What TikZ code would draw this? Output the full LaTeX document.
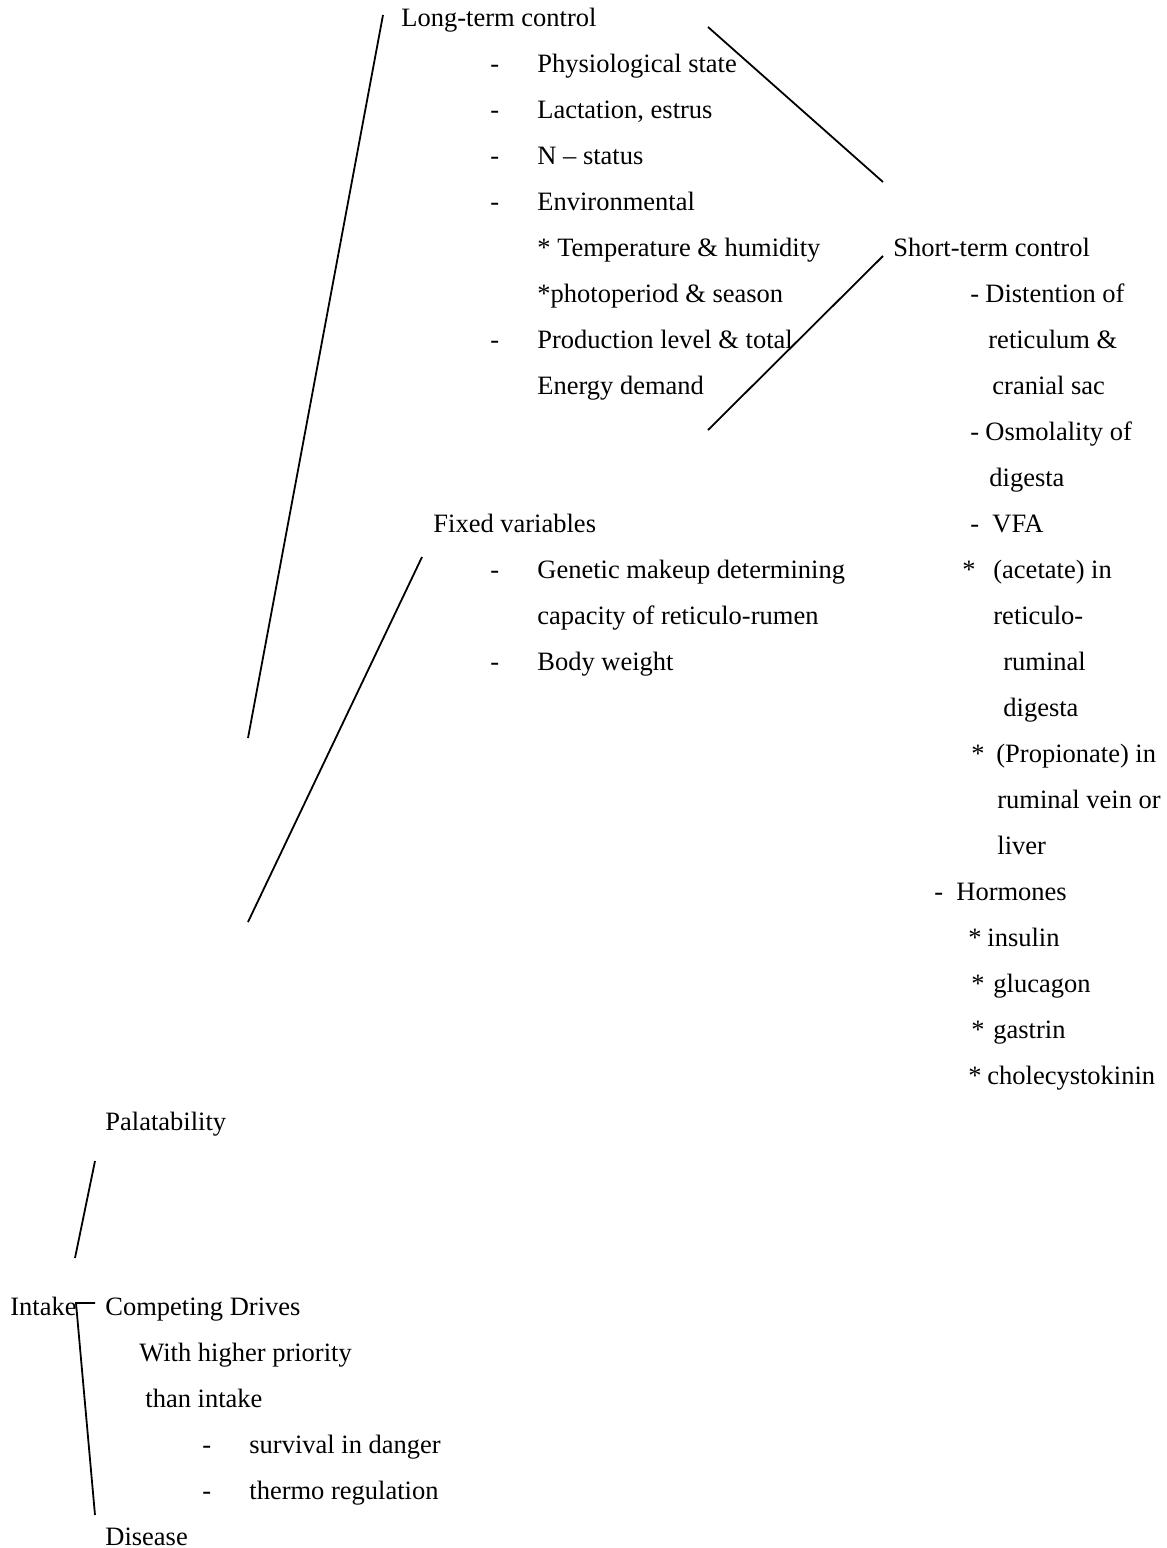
\documentclass[tikz,border=0pt]{standalone}
\usepackage{fontspec}
\setmainfont{Liberation Serif}
\usepackage{tikz}

% lead-in mark (dash or star) in a box of fixed width
\newcommand{\lead}[2]{\makebox[#1][l]{#2}}

\begin{document}
\begin{tikzpicture}[x=0.5pt, y=-0.5pt,
  font=\fontsize{13.25pt}{16pt}\selectfont,
  head/.style={anchor=base west, inner sep=0pt},
  item/.style={anchor=base west, inner sep=0pt},
  link/.style={line width=0.9pt, black},
]
  \useasboundingbox (0,0) rectangle (1167,1548);

  % long-term control
  \node[head] (lt) at (401,26) {Long-term control};
  \node[item] (phys) at (490,72) {\lead{23.5pt}{-}Physiological state};
  \node[item] (lact) at (490,118) {\lead{23.5pt}{-}Lactation, estrus};
  \node[item] (nst) at (490,164) {\lead{23.5pt}{-}N -- status};
  \node[item] (env) at (490,210) {\lead{23.5pt}{-}Environmental};
  \node[item] (temp) at (537,256) {* Temperature \& humidity};
  \node[item] (photo) at (537,302) {*photoperiod \& season};
  \node[item] (prod) at (490,348) {\lead{23.5pt}{-}Production level \& total};
  \node[item] (ener) at (537,394) {Energy demand};

  % fixed variables
  \node[head] (fv) at (433,532) {Fixed variables};
  \node[item] (gen) at (490,578) {\lead{23.5pt}{-}Genetic makeup determining};
  \node[item] (cap) at (537,624) {capacity of reticulo-rumen};
  \node[item] (bw) at (490,670) {\lead{23.5pt}{-}Body weight};

  % short-term control
  \node[head] (st) at (893,256) {Short-term control};
  \node[item] (dist) at (970,302) {\lead{7.5pt}{-}Distention of};
  \node[item] (ret) at (988,348) {reticulum \&};
  \node[item] (cran) at (992,394) {cranial sac};
  \node[item] (osm) at (970,440) {\lead{7.5pt}{-}Osmolality of};
  \node[item] (dig1) at (989,486) {digesta};
  \node[item] (vfa) at (970,532) {\lead{11pt}{-}VFA};
  \node[item] (acet) at (962,578) {\lead{15.5pt}{*}(acetate) in};
  \node[item] (reti) at (993,624) {reticulo-};
  \node[item] (rumi) at (1003,670) {ruminal};
  \node[item] (dig2) at (1003,716) {digesta};
  \node[item] (prop) at (971,762) {\lead{12.5pt}{*}(Propionate) in};
  \node[item] (vein) at (997,808) {ruminal vein or};
  \node[item] (liv) at (997,854) {liver};
  \node[item] (horm) at (934,900) {\lead{11pt}{-}Hormones};
  \node[item] (ins) at (968,946) {\lead{9.5pt}{*}insulin};
  \node[item] (glu) at (971,992) {\lead{11pt}{*}glucagon};
  \node[item] (gas) at (971,1038) {\lead{11pt}{*}gastrin};
  \node[item] (cck) at (968,1084) {\lead{9.5pt}{*}cholecystokinin};

  % intake and its factors
  \node[head] (pal) at (105,1130) {Palatability};
  \node[head] (int) at (10,1315) {Intake};
  \node[head] (cd) at (105,1315) {Competing Drives};
  \node[item] (prio) at (139,1361) {With higher priority};
  \node[item] (than) at (145,1407) {than intake};
  \node[item] (surv) at (202,1453) {\lead{23.5pt}{-}survival in danger};
  \node[item] (therm) at (202,1499) {\lead{23.5pt}{-}thermo regulation};
  \node[head] (dis) at (105,1545) {Disease};

  % line ends
  \coordinate (lt-top) at (383,15);
  \coordinate (lt-bot) at (248,738);
  \coordinate (fv-top) at (422,557);
  \coordinate (fv-bot) at (248,922);
  \coordinate (lt-st1) at (708,27);
  \coordinate (lt-st2) at (883,182);
  \coordinate (st-lt1) at (883,256);
  \coordinate (st-lt2) at (708,430);
  \coordinate (pal-top) at (95,1161);
  \coordinate (pal-bot) at (75,1258);
  \coordinate (int-j) at (76,1303);
  \coordinate (cd-j) at (95,1303);
  \coordinate (dis-j) at (95,1515);

  \draw[link] (lt-top) -- (lt-bot);
  \draw[link] (fv-top) -- (fv-bot);
  \draw[link] (lt-st1) -- (lt-st2);
  \draw[link] (st-lt1) -- (st-lt2);
  \draw[link] (pal-top) -- (pal-bot);
  \draw[link] (cd-j) -- (int-j) -- (dis-j);
\end{tikzpicture}
\end{document}
